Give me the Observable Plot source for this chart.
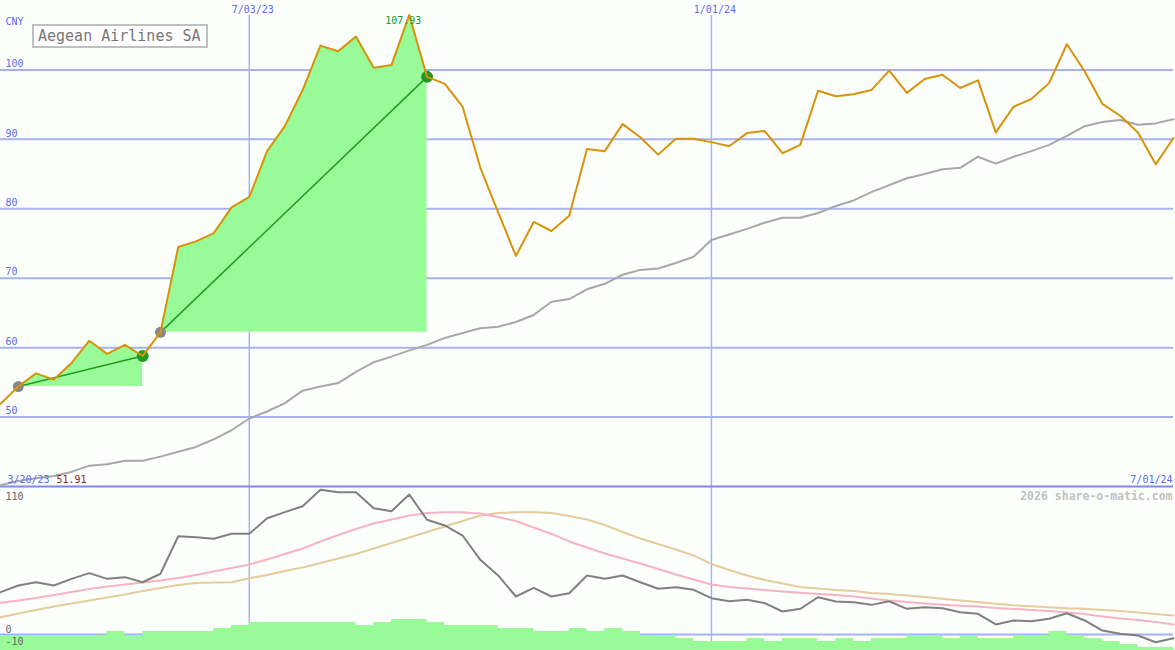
<!DOCTYPE html>
<html><head><meta charset="utf-8">
<script src="https://cdn.jsdelivr.net/npm/d3@7"></script>
<script src="https://cdn.jsdelivr.net/npm/@observablehq/plot@0.6"></script>
<style>
html,body{margin:0;padding:0;background:#fcfffc;}
#chart{position:relative;width:1175px;height:650px;background:#fcfffc;overflow:hidden;}
#chart svg{display:block;}
#title{position:absolute;left:32px;top:24px;width:176px;height:24px;box-sizing:border-box;border:2px solid #c0c0c0;background:#fff;font:15px "DejaVu Sans Mono",monospace;color:#777;padding-left:4px;line-height:20px;white-space:nowrap;}
</style></head><body>
<div id="chart"><div id="title">Aegean Airlines SA</div></div>
<script>
// ---- data ----
const startDate = "2023-03-27"; // weekly points (Mondays)
const price = [51.91, 54.4, 56.3, 55.4, 57.8, 61.0, 59.1, 60.4, 58.8, 62.2,
  74.5, 75.3, 76.5, 80.2, 81.7, 88.3, 91.9, 97.1, 103.5, 102.7,
  104.8, 100.3, 100.7, 107.93, 99.0, 98.0, 94.7, 85.9, 79.5, 73.2,
  78.1, 76.8, 79.0, 88.6, 88.3, 92.2, 90.3, 87.8, 90.1, 90.1,
  89.6, 89.0, 90.9, 91.2, 88.0, 89.2, 97.0, 96.2, 96.5, 97.1,
  99.9, 96.7, 98.7, 99.3, 97.4, 98.5, 91.0, 94.7, 95.8, 98.1,
  103.7, 99.8, 95.1, 93.4, 91.0, 86.4, 90.2];
const movingAvg = [40.2, 40.8, 41.2, 41.5, 42.1, 43.0, 43.2, 43.7, 43.7, 44.3,
  45.0, 45.7, 46.8, 48.1, 49.8, 50.8, 52.0, 53.8, 54.4, 54.9,
  56.5, 57.9, 58.7, 59.6, 60.4, 61.4, 62.1, 62.8, 63.0, 63.7,
  64.7, 66.6, 67.0, 68.4, 69.2, 70.5, 71.2, 71.4, 72.2, 73.1,
  75.5, 76.3, 77.1, 78.0, 78.7, 78.7, 79.4, 80.4, 81.2, 82.4,
  83.4, 84.4, 85.0, 85.7, 85.9, 87.5, 86.5, 87.5, 88.3, 89.2,
  90.5, 91.9, 92.5, 92.8, 92.1, 92.3, 92.9];
const oscillator = [35.0, 40.5, 43.2, 40.5, 46.0, 50.7, 46.0, 47.4, 43.2, 50.2,
  81.2, 80.4, 79.1, 83.2, 83.2, 96.1, 101.1, 106.0, 119.6, 117.6,
  117.6, 104.4, 101.9, 115.7, 94.8, 90.1, 81.8, 61.7, 48.8, 31.4,
  38.6, 31.4, 34.1, 48.8, 46.0, 48.8, 43.2, 37.8, 39.1, 36.9,
  30.0, 27.5, 28.7, 25.9, 19.0, 21.2, 30.8, 27.3, 26.7, 24.5,
  27.5, 21.2, 22.6, 21.7, 18.4, 17.1, 8.3, 11.6, 11.0, 13.0,
  17.6, 11.6, 3.3, 0.6, -0.8, -6.4, -3.1];
const fastAvg = [26.2, 28.1, 30.2, 32.6, 35.1, 37.6, 39.7, 41.3, 43.0, 44.6,
  46.7, 49.2, 52.1, 55.0, 57.9, 62.0, 66.5, 71.1, 76.9, 82.2,
  87.2, 91.7, 95.0, 98.3, 100.4, 101.1, 101.1, 100.0, 97.1, 93.8,
  88.4, 83.1, 76.9, 71.9, 66.9, 62.8, 58.7, 54.1, 49.6, 45.5,
  41.3, 39.3, 38.0, 36.8, 35.5, 34.5, 33.5, 32.6, 31.4, 29.8,
  28.1, 26.9, 25.6, 24.5, 23.7, 23.1, 21.9, 21.1, 20.2, 19.4,
  18.2, 16.9, 14.9, 13.2, 12.0, 10.3, 8.3];
const slowAvg = [14.3, 17.4, 20.2, 23.1, 25.6, 28.1, 30.6, 33.1, 36.0, 38.4,
  40.9, 42.6, 43.0, 43.2, 46.5, 49.2, 52.5, 55.4, 59.1, 62.8,
  66.5, 71.1, 75.6, 80.2, 84.7, 89.3, 93.8, 98.3, 100.4, 101.1,
  101.1, 100.4, 97.9, 95.0, 90.5, 84.7, 79.3, 74.8, 70.2, 65.3,
  58.3, 53.3, 48.8, 45.0, 42.1, 39.3, 38.0, 36.8, 36.0, 34.3,
  33.5, 32.2, 31.0, 29.5, 28.1, 26.9, 25.4, 24.1, 23.3, 22.6,
  21.7, 21.2, 20.2, 19.4, 18.2, 16.9, 15.7];
const histogram = [-0.8, -0.8, -0.8, -0.8, -0.8, -0.8, 2.5, -0.8, 2.5, 2.5,
  2.5, 2.5, 5.0, 7.4, 9.9, 9.9, 9.9, 9.9, 9.9, 9.9,
  7.4, 9.9, 12.4, 12.4, 9.9, 7.4, 7.4, 7.4, 5.0, 5.0,
  2.5, 2.5, 5.0, 2.5, 5.0, 2.5, -0.8, -0.8, -3.3, -5.8,
  -5.8, -5.8, -3.3, -5.8, -3.3, -3.3, -5.8, -3.3, -5.8, -3.3,
  -3.3, -0.8, -0.8, -3.3, -0.8, -3.3, -3.3, -0.8, -0.8, 2.5,
  -0.8, -3.3, -5.8, -8.3, -10.7, -10.7, -10.7];
const swings = [[1, 8], [9, 24]]; // start/end indices of highlighted runs
const yTicks = [50, 60, 70, 80, 90, 100];
const dateTicks = ["2023-07-03", "2024-01-01"];
const dateTickLabels = ["7/03/23", "1/01/24"];
const lowerTicks = [110, 0, -10];
const currency = "CNY";
const firstDateLabel = "3/20/23";
const lastDateLabel = "7/01/24";
const peakIndex = 23;
const endDate = "2024-07-01";
const watermark = "2026 share-o-matic.com";

// ---- build ----
const start = new Date(startDate);
const dates = price.map((_, i) => d3.utcDay.offset(start, 7 * i));
const rows = price.map((p, i) => ({
  date: dates[i], price: p, avg: movingAvg[i], osc: oscillator[i],
  fast: fastAvg[i], slow: slowAvg[i], hist: histogram[i]
}));
const tickRows = dateTicks.map((d, i) => ({date: new Date(d), label: dateTickLabels[i]}));
const areaRows = [];
swings.forEach(([a, b], s) => {
  for (let i = a; i <= b; i++) areaRows.push({seg: s, date: dates[i], base: price[a], price: price[i]});
});
const swingRows = swings.map(([a, b]) => ({x1: dates[a], y1: price[a], x2: dates[b], y2: price[b]}));

const xDomain = [new Date(startDate), new Date(endDate)];
const grid = "#a6b2f2";
const blue = "#5a6cf0";
const font = {fontFamily: "'DejaVu Sans Mono', monospace", fontSize: "10px", background: "transparent", overflow: "visible"};

const topPlot = Plot.plot({
  width: 1175, height: 488,
  marginLeft: 0, marginRight: 2, marginTop: 0, marginBottom: 0,
  style: font,
  x: {type: "utc", domain: xDomain, axis: null},
  y: {domain: [40, 110], range: [486, 0], axis: null},
  marks: [
    Plot.ruleY(yTicks, {stroke: grid, strokeWidth: 2}),
    Plot.ruleX(tickRows, {x: "date", stroke: grid, strokeWidth: 1.5, insetTop: 15}),
    Plot.areaY(areaRows, {x: "date", y1: "base", y2: "price", z: "seg", fill: "#98fb98", fillOpacity: 1}),
    Plot.ruleY([40], {stroke: "#7d8ce8", strokeWidth: 2}),
    Plot.line(rows, {x: "date", y: "avg", stroke: "#a8a8a8", strokeWidth: 2}),
    Plot.link(swingRows, {x1: "x1", y1: "y1", x2: "x2", y2: "y2", stroke: "#229922", strokeWidth: 1.5}),
    Plot.dot(swingRows, {x: "x1", y: "y1", r: 5.5, fill: "#888888"}),
    Plot.dot(swingRows, {x: "x2", y: "y2", r: 6, fill: "#229922"}),
    Plot.line(rows, {x: "date", y: "price", stroke: "#d8930a", strokeWidth: 2}),
    Plot.text(yTicks, {x: xDomain[0], y: d => d, text: d => String(d), dx: 5, dy: -6, textAnchor: "start", fill: blue}),
    Plot.text([currency], {frameAnchor: "top-left", dx: 5, dy: 21, lineAnchor: "middle", fill: blue}),
    Plot.text(tickRows, {x: "date", text: "label", frameAnchor: "top", dy: 9, dx: 3.5, lineAnchor: "middle", fill: blue}),
    Plot.text([firstDateLabel], {frameAnchor: "bottom-left", dx: 7, dy: -9, lineAnchor: "middle", textAnchor: "start", fill: blue}),
    Plot.text([price[0].toFixed(2)], {frameAnchor: "bottom-left", dx: 56, dy: -9, lineAnchor: "middle", textAnchor: "start", fill: "#a01818"}),
    Plot.text([lastDateLabel], {frameAnchor: "bottom-right", dx: -1, dy: -9, lineAnchor: "middle", textAnchor: "end", fill: blue}),
    Plot.text([rows[peakIndex]], {x: "date", y: "price", text: d => d.price.toFixed(2), dx: -6, dy: 5.5, fill: "#229922"})
  ]
});

const bottomPlot = Plot.plot({
  width: 1175, height: 162,
  marginLeft: 0, marginRight: 2, marginTop: 0, marginBottom: 0,
  style: font,
  x: {type: "utc", domain: xDomain, axis: null},
  y: {domain: [-13.22, 120.66], range: [162, 0], axis: null},
  marks: [
    Plot.ruleX(tickRows, {x: "date", stroke: grid, strokeWidth: 1.5}),
    Plot.ruleY([0], {stroke: grid, strokeWidth: 2}),
    Plot.areaY(rows, {x: "date", y1: -14, y2: "hist", curve: "step-after", fill: "#98fb98", clip: true}),
    Plot.line(rows, {x: "date", y: "slow", stroke: "#e4cc9c", strokeWidth: 2}),
    Plot.line(rows, {x: "date", y: "fast", stroke: "#f8b2c6", strokeWidth: 2}),
    Plot.line(rows, {x: "date", y: "osc", stroke: "#808080", strokeWidth: 2}),
    Plot.text(lowerTicks, {x: xDomain[0], y: d => d, text: d => String(d), dx: 5, dy: -5, textAnchor: "start", fill: "#666"}),
    Plot.text([watermark], {frameAnchor: "top-right", dx: -1, dy: 8, lineAnchor: "middle", textAnchor: "end", fill: "#c2c2c2", fontWeight: "bold", fontSize: 11.5})
  ]
});

const chart = document.getElementById("chart");
chart.insertBefore(topPlot, chart.firstChild);
chart.insertBefore(bottomPlot, topPlot.nextSibling);
</script>
</body></html>
